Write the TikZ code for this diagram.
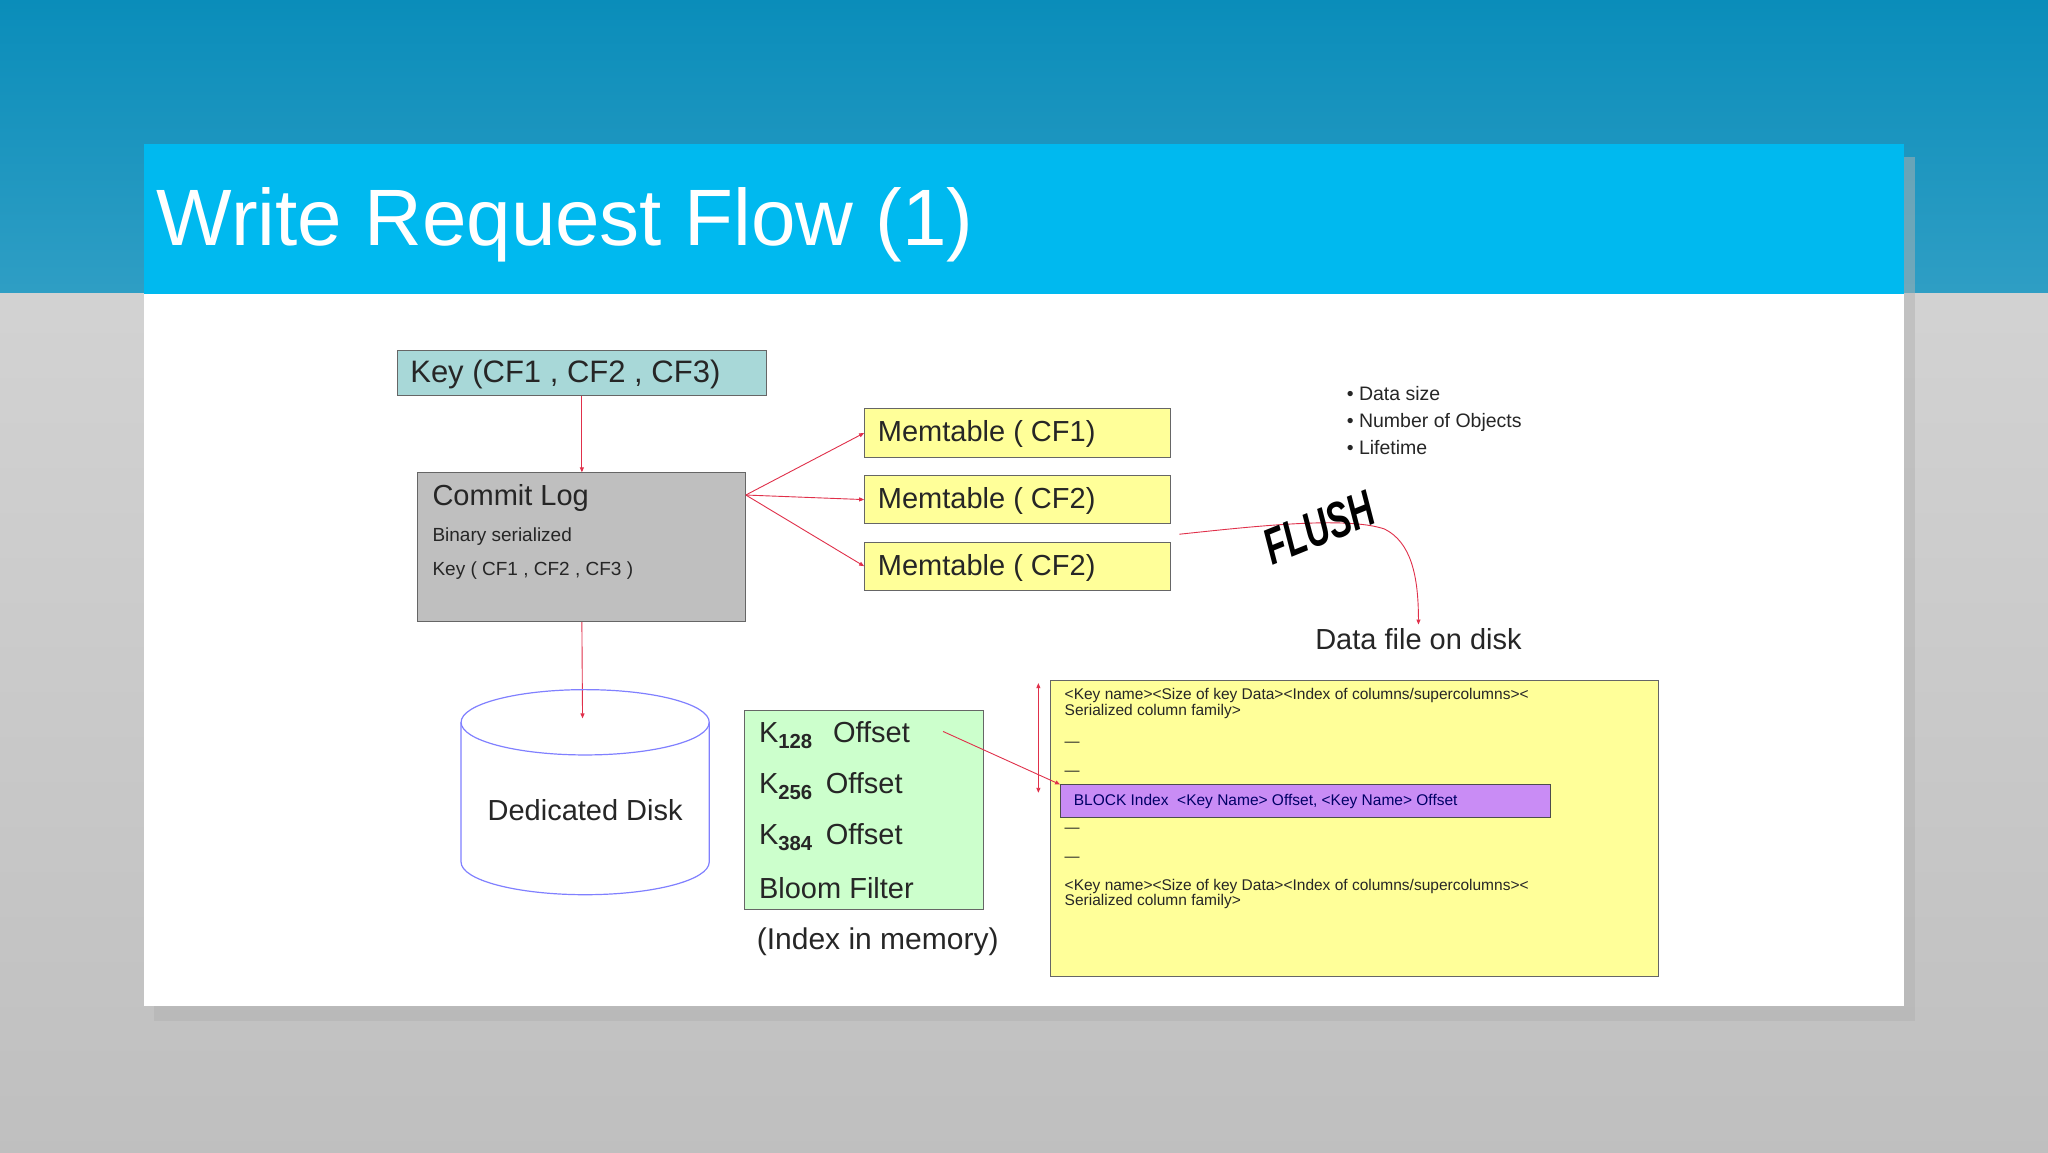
\documentclass[tikz,border=0pt]{standalone}
\usepackage{fontspec}
\setmainfont{Liberation Sans}
\usetikzlibrary{arrows.meta,shapes.geometric}
\newcommand{\fsz}[1]{\fontsize{#1}{#1}\selectfont}
\definecolor{titlebar}{HTML}{00B9EF}
\definecolor{topbg}{HTML}{0A8DBA}
\definecolor{ylw}{HTML}{FFFF99}
\definecolor{grn}{HTML}{CCFFCC}
\definecolor{tealb}{HTML}{A8D8D8}
\definecolor{arr}{HTML}{E0304A}
\definecolor{vio}{HTML}{C98CF5}
\begin{document}
\begin{tikzpicture}[x=1.30612pt,y=-1.30612pt,
  box/.style={draw=gray!80!black,line width=1pt,inner sep=0pt},
  ra/.style={draw=arr,line width=0.9pt,-{Triangle[length=5pt,width=4pt]}},
  t/.style={anchor=west,inner sep=0pt,text=black!85}]
\useasboundingbox (0,0) rectangle (1568,882);
\shade[top color=topbg,bottom color=topbg!85!white] (0,0) rectangle (1568,225);
\shade[top color=gray!35,bottom color=gray!50] (0,225) rectangle (1568,882);
\fill[black!30,opacity=0.5] (118,120) rectangle (1466,782);
\fill[white] (110,110) rectangle (1458,770);
\fill[titlebar] (110,110) rectangle (1458,225);
\node[t,text=white,font=\fsz{80}] (title) at (120,172) {Write Request Flow (1)};
% key
\node[box,fill=tealb,minimum width=283*1.30612pt,minimum height=35*1.30612pt] (key) at (445.5,285.5) {};
\node[t,font=\fsz{31}] (keyt) at (314,287) {Key (CF1 , CF2 , CF3)};
% commit
\node[box,fill=gray!50,minimum width=251*1.30612pt,minimum height=114*1.30612pt] (commit) at (445.5,419) {};
\node[t,font=\fsz{29}] (c1) at (331,381) {Commit Log};
\node[t,font=\fsz{19}] (c2) at (331,411) {Binary serialized};
\node[t,font=\fsz{19}] (c3) at (331,437) {Key ( CF1 , CF2 , CF3 )};
% memtables
\foreach \n/\y/\s in {m1/331.5/CF1,m2/382.5/CF2,m3/433.5/CF2}{
  \node[box,fill=ylw,minimum width=234*1.30612pt,minimum height=37*1.30612pt] (\n) at (779,\y) {};
  \node[t,font=\fsz{29}] at (672,\y+1) {Memtable ( \s)};
}
\coordinate (cs) at (571,379);
\draw[ra] (cs) -- (m1.west);
\draw[ra] (cs) -- (m2.west);
\draw[ra] (cs) -- (m3.west);
\draw[ra] (key.south) -- (commit.north);
\coordinate (dtop) at (446,550);
\draw[ra] (commit.south) -- (dtop);
% cylinder
\draw[draw=blue!50!white,line width=1.2pt,fill=white] (353,553) -- (353,660) arc[start angle=180,end angle=360,x radius=95,y radius=-25] -- (543,553);
\draw[draw=blue!50!white,line width=1.2pt] (448,553) ellipse[x radius=95,y radius=25];
\node[font=\fsz{29},text=black!85] (disk) at (448,620) {Dedicated Disk};
% index
\node[box,fill=grn,minimum width=183*1.30612pt,minimum height=152*1.30612pt] (idx) at (661.5,620) {};
\node[t,font=\fsz{29}] (k1) at (581,563) {K$_{\mathbf{128}}$\hspace{0.7em}Offset};
\node[t,font=\fsz{29}] (k2) at (581,602) {K$_{\mathbf{256}}$\hspace{0.45em}Offset};
\node[t,font=\fsz{29}] (k3) at (581,641) {K$_{\mathbf{384}}$\hspace{0.45em}Offset};
\node[t,font=\fsz{29}] (bf) at (581,680) {Bloom Filter};
\node[font=\fsz{30},text=black!85] (im) at (672,721) {(Index in memory)};
% data file
\node[box,fill=ylw,minimum width=466*1.30612pt,minimum height=227*1.30612pt] (df) at (1037,634.5) {};
\node[t,font=\fsz{15.5},align=left,anchor=north west] at (815,527) {<Key name><Size of key Data><Index of columns/supercolumns><\\Serialized column family>};
\node[t,font=\fsz{15}] at (815,570) {—};
\node[t,font=\fsz{15}] at (815,592) {—};
\node[box,fill=vio,draw=black!70,minimum width=375*1.30612pt,minimum height=25*1.30612pt] (blk) at (999.5,613.5) {};
\node[t,font=\fsz{15.5},text=blue!40!black] at (822,614) {BLOCK Index\ \ <Key Name> Offset, <Key Name> Offset};
\node[t,font=\fsz{15}] at (815,636) {—};
\node[t,font=\fsz{15}] at (815,658) {—};
\node[t,font=\fsz{15.5},align=left,anchor=north west] at (815,673) {<Key name><Size of key Data><Index of columns/supercolumns><\\Serialized column family>};
\coordinate (da) at (795,523); \coordinate (db) at (795,607);
\draw[draw=arr,line width=0.9pt,{Triangle[length=5pt,width=4pt]}-{Triangle[length=5pt,width=4pt]}] (da) -- (db);
\coordinate (ka) at (722,560);
\draw[ra] (ka) -- (blk.north west);
% flush
\coordinate (fa) at (903,409);
\node[font=\fsz{29},text=black!85] (dfd) at (1086,489) {Data file on disk};
\draw[ra] (fa) .. controls (960,403) and (1030,395) .. (1060,405) .. controls (1080,415) and (1086,440) .. (dfd.north);
\node[font=\fsz{46}\bfseries\itshape,rotate=22,xscale=0.75,yscale=1.1] (fl) at (1010,404) {FLUSH};
\node[t,font=\fsz{19.5},align=left] (bl) at (1031,322) {\textbullet\ Data size\\[0.4em]\textbullet\ Number of Objects\\[0.4em]\textbullet\ Lifetime};
\end{tikzpicture}
\end{document}
